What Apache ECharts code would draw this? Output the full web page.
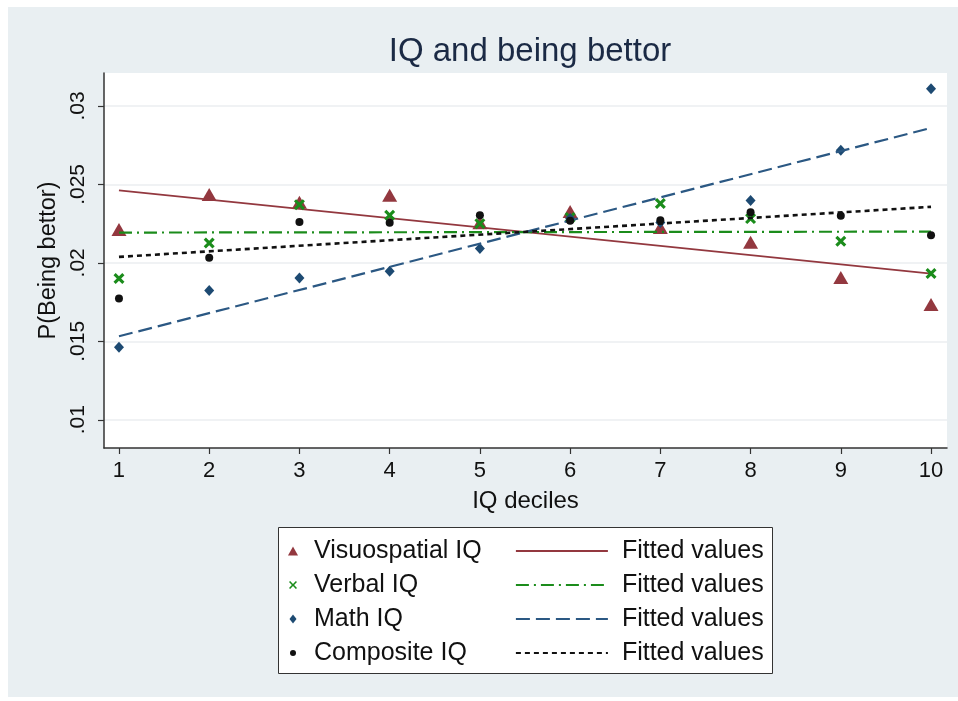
<!DOCTYPE html>
<html>
<head>
<meta charset="utf-8">
<script src="https://cdn.jsdelivr.net/npm/echarts@6/dist/echarts.min.js"></script>
<style>
  html, body { margin: 0; padding: 0; background: #ffffff; }
  #bg { position: absolute; left: 8px; top: 7px; width: 950px; height: 690px; background: #e9eff2; }
  #chart { position: absolute; left: 0; top: 0; width: 958px; height: 701px; }
</style>
</head>
<body>
<div id="bg"></div>
<div id="chart"></div>
<script>
// ---- data ----
const deciles = [1, 2, 3, 4, 5, 6, 7, 8, 9, 10];
const visuospatial = [0.02212, 0.02435, 0.02386, 0.02431, 0.02255, 0.02327, 0.02225, 0.02131, 0.01906, 0.01734];
const verbal       = [0.01900, 0.02127, 0.02371, 0.02303, 0.02250, 0.02289, 0.02378, 0.02282, 0.02138, 0.01932];
const mathIQ       = [0.01462, 0.01824, 0.01904, 0.01946, 0.02091, 0.02282, 0.02257, 0.02397, 0.02717, 0.03110];
const composite    = [0.01773, 0.02032, 0.02261, 0.02255, 0.02303, 0.02269, 0.02271, 0.02322, 0.02301, 0.02176];
// fitted-line end points at decile 1 and decile 10
const fitX = [1, 10];
const fitVisuospatial = [0.02462, 0.01932];
const fitVerbal       = [0.02193, 0.02199];
const fitMath         = [0.01532, 0.02860];
const fitComposite    = [0.02038, 0.02357];
const yTicks = [0.01, 0.015, 0.02, 0.025, 0.03];
const xTicks = [1, 2, 3, 4, 5, 6, 7, 8, 9, 10];

const title = 'IQ and being bettor';
const xName = 'IQ deciles';
const yName = 'P(Being bettor)';
const scatterNames = ['Visuospatial IQ', 'Verbal IQ', 'Math IQ', 'Composite IQ'];
const fitNames = ['Fitted values (Visuospatial IQ)', 'Fitted values (Verbal IQ)', 'Fitted values (Math IQ)', 'Fitted values (Composite IQ)'];
const fitLabel = 'Fitted values';

const pairs = (xs, ys) => xs.map((x, i) => [x, ys[i]]);

const FONT = 'Liberation Sans, Arial, sans-serif';
const cMaroon = '#93383f';
const cGreen = '#1b8c1b';
const cNavy = '#1d4a72';
const cNavyLine = '#2b5883';
const cBlack = '#111111';
const xPath = 'path://M0,2 L2,0 L5,3 L8,0 L10,2 L7,5 L10,8 L8,10 L5,7 L2,10 L0,8 L3,5 Z';
const xPathThin = 'path://M0,1.4 L1.4,0 L5,3.6 L8.6,0 L10,1.4 L6.4,5 L10,8.6 L8.6,10 L5,6.4 L1.4,10 L0,8.6 L3.6,5 Z';

const scatterDefs = [
  { name: scatterNames[0], data: visuospatial, symbol: 'triangle', size: [15, 13], color: cMaroon, legIcon: 'triangle', legW: 10, legH: 9 },
  { name: scatterNames[1], data: verbal, symbol: xPath, size: [11, 11], color: cGreen, legIcon: xPathThin, legW: 8, legH: 8 },
  { name: scatterNames[2], data: mathIQ, symbol: 'diamond', size: [10, 11], color: cNavy, legIcon: 'diamond', legW: 7, legH: 9 },
  { name: scatterNames[3], data: composite, symbol: 'circle', size: 8, color: cBlack, legIcon: 'circle', legW: 6, legH: 6 }
];
const fitDefs = [
  { name: fitNames[0], data: fitVisuospatial, color: cMaroon, type: 'solid', width: 1.8 },
  { name: fitNames[1], data: fitVerbal, color: cGreen, type: [13, 5, 2, 5], width: 2.2 },
  { name: fitNames[2], data: fitMath, color: cNavyLine, type: [14, 6], width: 2.2 },
  { name: fitNames[3], data: fitComposite, color: cBlack, type: [5, 4], width: 2.6 }
];

const series = [];
for (let i = 0; i < 4; i++) {
  const s = scatterDefs[i], f = fitDefs[i];
  series.push({
    name: s.name, type: 'scatter', data: pairs(deciles, s.data),
    symbol: s.symbol, symbolSize: s.size,
    itemStyle: { color: s.color, opacity: 1 },
    emphasis: { disabled: true }, z: 2 + i * 2
  });
  series.push({
    name: f.name, type: 'line', data: pairs(fitX, f.data),
    symbol: 'none', showSymbol: false, silent: true,
    lineStyle: { color: f.color, type: f.type, width: f.width },
    itemStyle: { color: f.color },
    emphasis: { disabled: true }, z: 3 + i * 2
  });
}

// legend rows
const rowCenters = [551, 585, 619, 653];
const legendFont = { fontFamily: FONT, fontSize: 25, color: '#111', lineHeight: 26 };
const legends = [];
for (let i = 0; i < 4; i++) {
  const s = scatterDefs[i];
  legends.push({
    show: true, orient: 'vertical', left: 293 - s.legW / 2, top: rowCenters[i] - 13, padding: 0,
    itemWidth: s.legW, itemHeight: s.legH, selectedMode: false,
    data: [{ name: s.name, icon: s.legIcon, itemStyle: { color: s.color } }],
    textStyle: Object.assign({ padding: [0, 0, 0, 21 - s.legW / 2 - 5] }, legendFont)
  });
  const f = fitDefs[i];
  legends.push({
    show: true, orient: 'vertical', left: 515, top: rowCenters[i] - 13, padding: 0,
    itemWidth: 92, itemHeight: 14, selectedMode: false,
    data: [{ name: f.name }],
    itemStyle: { opacity: 0 },
    lineStyle: { width: 1.8 },
    formatter: () => fitLabel,
    textStyle: Object.assign({ padding: [0, 0, 0, 9] }, legendFont)
  });
}

const chart = echarts.init(document.getElementById('chart'), null, { renderer: 'canvas' });
chart.setOption({
  backgroundColor: 'transparent',
  animation: false,
  title: {
    text: title, left: 525, top: 30, textAlign: 'center',
    textStyle: { fontFamily: FONT, fontSize: 33, fontWeight: 'normal', color: '#1b2a45' }
  },
  graphic: [{
    type: 'rect', left: 278, top: 527, z: 0, silent: true,
    shape: { width: 494, height: 146 },
    style: { fill: '#ffffff', stroke: '#333333', lineWidth: 1 }
  }],
  legend: legends,
  grid: {
    left: 104, top: 73, right: 11, bottom: 253,
    show: true, backgroundColor: '#ffffff', borderWidth: 0
  },
  xAxis: {
    type: 'value', min: 0.834, max: 10.177,
    name: xName, nameLocation: 'middle', nameGap: 41,
    nameTextStyle: { fontFamily: FONT, fontSize: 24, color: '#111' },
    axisLine: { show: true, onZero: false, lineStyle: { color: '#333', width: 1.5 } },
    axisTick: { show: true, length: 6, lineStyle: { color: '#333', width: 1.2 }, customValues: xTicks },
    axisLabel: { customValues: xTicks, margin: 12, fontFamily: FONT, fontSize: 22, color: '#111' },
    splitLine: { show: false }
  },
  yAxis: {
    type: 'value', min: 0.0082, max: 0.0321,
    name: yName, nameLocation: 'middle', nameGap: 42,
    nameTextStyle: { fontFamily: FONT, fontSize: 23.5, color: '#111' },
    axisLine: { show: true, onZero: false, lineStyle: { color: '#333', width: 1.5 } },
    axisTick: { show: true, length: 6, lineStyle: { color: '#333', width: 1.2 }, customValues: yTicks },
    axisLabel: {
      customValues: yTicks, rotate: 90, margin: 15,
      fontFamily: FONT, fontSize: 21, color: '#111',
      formatter: v => String(+v.toFixed(3)).replace(/^0\./, '.')
    },
    splitLine: { show: true, lineStyle: { color: '#f0f2f4', width: 2 } }
  },
  series: series
});
</script>
</body>
</html>
